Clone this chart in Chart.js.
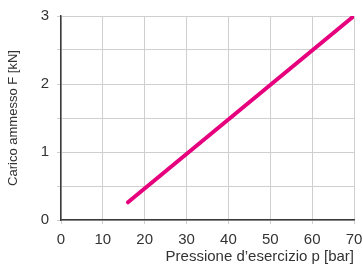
<!DOCTYPE html>
<html>
<head>
<meta charset="utf-8">
<script src="https://cdn.jsdelivr.net/npm/chart.js@4/dist/chart.umd.min.js"></script>
<style>
  html, body { margin: 0; padding: 0; background: #fff; }
  #wrap { width: 363px; height: 273px; }
</style>
</head>
<body>
<div id="wrap"><canvas id="chart"></canvas></div>
<script>
// --- Dati ---
const pressure = [16, 70];        // bar
const load = [0.26, 3];           // kN
const xTicks = [0, 10, 20, 30, 40, 50, 60, 70];

const lineColor = '#e6007e';
const gridColor = '#cfcfcf';
const axisColor = '#3a3a3a';
const textColor = '#333';

const ctx = document.getElementById('chart').getContext('2d');
new Chart(ctx, {
    type: 'scatter',
    data: {
        datasets: [{
            data: pressure.map((p, i) => ({ x: p, y: load[i] })),
            showLine: true,
            borderColor: lineColor,
            borderWidth: 4,
            pointRadius: 0,
            borderCapStyle: 'round'
        }]
    },
    options: {
        responsive: true,
        maintainAspectRatio: false,
        animation: false,
        layout: { padding: { top: 16, right: 0, left: 0, bottom: 0 } },
        plugins: { legend: { display: false }, tooltip: { enabled: false } },
        scales: {
            x: {
                type: 'linear',
                min: 0, max: 70,
                afterBuildTicks: axis => { axis.ticks = xTicks.map(v => ({ value: v })); },
                grid: { color: gridColor, drawTicks: true, tickLength: 4 },
                border: { color: axisColor, width: 1.5 },
                ticks: { color: textColor, font: { family: 'Liberation Sans', size: 15 }, padding: 7, maxRotation: 0 },
                title: {
                    display: true, text: 'Pressione d\u2019esercizio p [bar]', align: 'end',
                    color: textColor, font: { family: 'Liberation Sans', size: 15 }, padding: { top: 2, bottom: 7 }
                },
                afterFit: s => { s.height = 53; s.paddingRight = 9; s.paddingLeft = 0; }
            },
            y: {
                min: 0, max: 3,
                ticks: {
                    stepSize: 0.5,
                    color: textColor, font: { family: 'Liberation Sans', size: 15 }, padding: 8,
                    callback: v => Number.isInteger(v) ? v : ''
                },
                grid: { color: gridColor, tickLength: 4 },
                border: { color: axisColor, width: 1.5 },
                title: {
                    display: true, text: 'Carico ammesso F [kN]',
                    color: textColor, font: { family: 'Liberation Sans', size: 13 }, padding: { top: 6, bottom: 6 }
                },
                afterFit: s => { s.width = 61; s.paddingTop = 0; s.paddingBottom = 0; }
            }
        }
    }
});
</script>
</body>
</html>
